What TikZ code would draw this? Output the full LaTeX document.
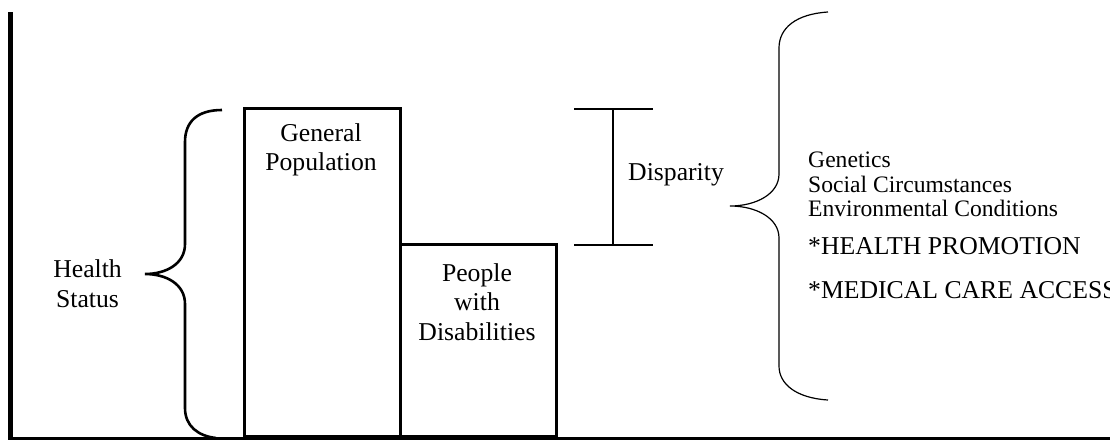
\documentclass[tikz,border=0pt]{standalone}
\usepackage{fontspec}
\setmainfont{Liberation Serif}
\begin{document}
\begin{tikzpicture}[x=1pt,y=-1pt,
  bar/.style={draw, line width=2.6pt, inner sep=0pt, fill=none},
  lbl/.style={inner sep=0pt, align=center, font=\fontsize{25.7}{29.6}\selectfont},
  lst/.style={inner sep=0pt, anchor=west, align=left},
  thinline/.style={line width=1.2pt},
  thick brace/.style={line width=2.6pt}]
\useasboundingbox (0,0) rectangle (1110,440);
% axes
\coordinate (axtop) at (10.5,12);
\coordinate (origin) at (10.5,438);
\coordinate (axend) at (1110,438);
\draw[line width=4.5pt] (axtop) -- (origin);
\draw[line width=3pt] ([xshift=-2.25pt]origin) -- (axend);
% bars
\node[bar, minimum width=156pt, minimum height=328pt, anchor=south west] (gp) at (243,438) {};
\node[bar, minimum width=156pt, minimum height=192pt, anchor=south west] (pwd) at (399,438) {};
\node[lbl, anchor=center] (gptext) at (321,150) {General\\Population};
\node[lbl, anchor=center] (pwdtext) at (477,302) {People\\with\\Disabilities};
% left brace
\coordinate (lbtop) at (222,110);
\coordinate (lbtip) at (145,274);
\coordinate (lbbot) at (216,438);
\draw[thick brace] (lbtop) .. controls (197,110) and (185,122) .. (185,142) -- (185,244)
  .. controls (185,264) and (166,274) .. (lbtip)
  .. controls (166,274) and (185,284) .. (185,304) -- (185,408)
  .. controls (185,426) and (198,436) .. (lbbot);
\node[lbl, anchor=east] (hs) at (122,284) {Health\\Status};
% disparity bar
\coordinate (dtl) at (574,109);
\coordinate (dtr) at (653,109);
\coordinate (dbl) at (574,245);
\coordinate (dbr) at (653,245);
\coordinate (dtm) at (613,109);
\coordinate (dbm) at (613,245);
\draw[thinline] (dtl) -- (dtr);
\draw[thinline] (dbl) -- (dbr);
\draw[thinline] (dtm) -- (dbm);
\node[lbl, anchor=west] (disp) at (628,175) {Disparity};
% right brace
\coordinate (rbtop) at (828,12);
\coordinate (rbtip) at (730,206);
\coordinate (rbbot) at (828,400);
\draw[thinline] (rbtop) .. controls (796,14) and (779,28) .. (779,48) -- (779,174)
  .. controls (779,194) and (756,206) .. (rbtip)
  .. controls (756,206) and (779,218) .. (779,238) -- (779,366)
  .. controls (779,384) and (796,398) .. (rbbot);
% factors
\node[lst, font=\fontsize{23.6}{24}\selectfont] (gen) at (808,160) {Genetics};
\node[lst, font=\fontsize{23.6}{24}\selectfont] (soc) at (808,184) {Social Circumstances};
\node[lst, font=\fontsize{23.6}{24}\selectfont] (env) at (808,208) {Environmental Conditions};
\node[lst, font=\fontsize{25.7}{29.6}\selectfont] (hp) at (808,246) {*HEALTH PROMOTION};
\node[lst, font=\fontsize{25.7}{29.6}\selectfont] (mca) at (808,290) {*MEDICAL CARE ACCESS};
\end{tikzpicture}
\end{document}
